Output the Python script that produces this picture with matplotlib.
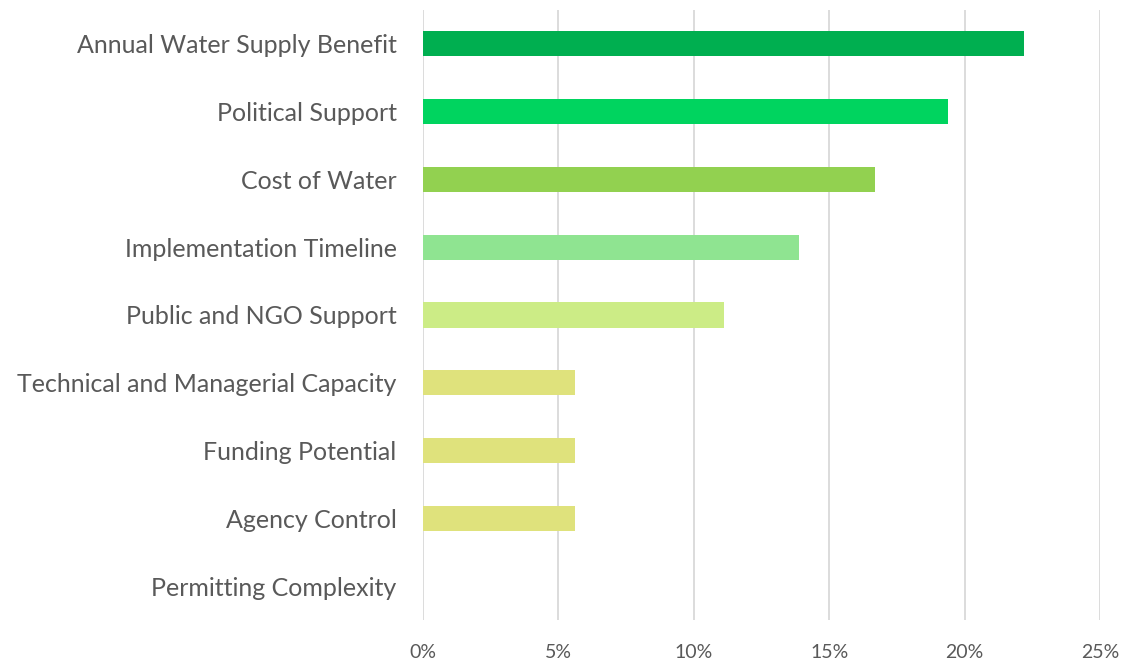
import matplotlib.pyplot as plt
from matplotlib.ticker import PercentFormatter

categories = ["Annual Water Supply Benefit", "Political Support", "Cost of Water",
              "Implementation Timeline", "Public and NGO Support",
              "Technical and Managerial Capacity", "Funding Potential",
              "Agency Control", "Permitting Complexity"]
values = [22.2, 19.4, 16.7, 13.9, 11.1, 5.6, 5.6, 5.6, 0.0]
colors = ["#00AF50", "#00D45F", "#92D150", "#8FE491", "#CCEC86",
          "#DFE27C", "#DFE27C", "#DFE27C", "#DFE27C"]
xticks = [0, 5, 10, 15, 20, 25]

plt.rcParams['font.family'] = ['Lato', 'DejaVu Sans']

fig = plt.figure(figsize=(11.26, 6.62), dpi=100)
ax = fig.add_axes([0.3757, 0.0634, 0.6012, 0.9216])

ax.barh(range(len(categories)), values, height=0.37, color=colors, zorder=3)

ax.set_ylim(len(categories) - 0.5, -0.5)
ax.set_xlim(0, 25)
ax.set_xticks(xticks)
ax.xaxis.set_major_formatter(PercentFormatter(decimals=0))
ax.set_yticks(range(len(categories)))
ax.set_yticklabels(categories)

ax.grid(axis="x", color="#D9D9D9", linewidth=1.3, zorder=0)
for s in ax.spines.values():
    s.set_visible(False)
ax.tick_params(axis="both", length=0, colors="#595959")
ax.tick_params(axis="y", labelsize=18, pad=19)
ax.tick_params(axis="x", labelsize=14, pad=17)

plt.savefig("out.png", dpi=100)
